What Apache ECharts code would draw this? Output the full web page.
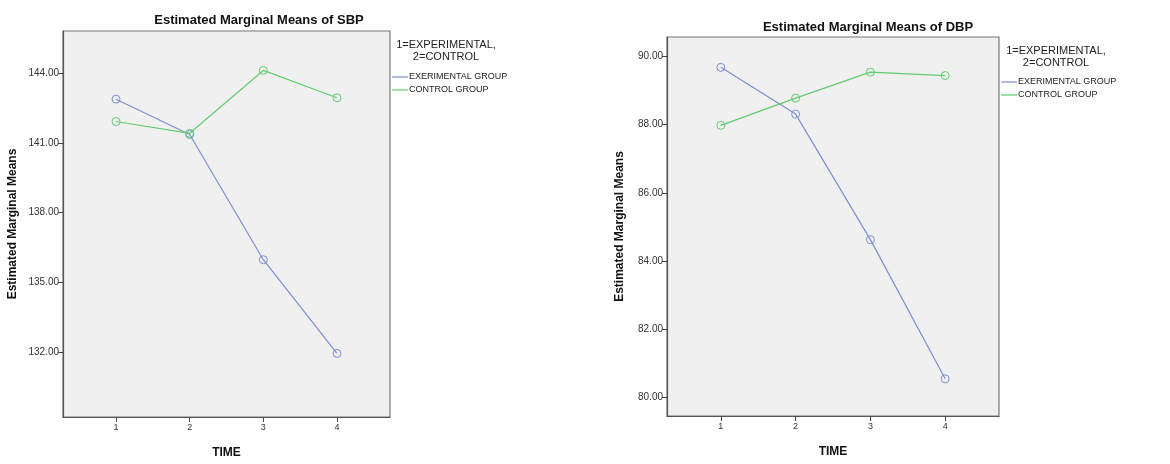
<!DOCTYPE html>
<html>
<head>
<meta charset="utf-8">
<script src="https://cdn.jsdelivr.net/npm/echarts@6/dist/echarts.min.js"></script>
<style>html,body{margin:0;padding:0;background:#fff;}#c{width:1170px;height:464px;}</style>
</head>
<body>
<div id="c"></div>
<script>
// ---- data ----
var timePoints = [1, 2, 3, 4];
var seriesNames = ['EXERIMENTAL GROUP', 'CONTROL GROUP'];
var sbpExperimental = [142.89, 141.37, 135.97, 131.93];
var sbpControl = [141.93, 141.42, 144.13, 142.95];
var dbpExperimental = [89.68, 88.31, 84.63, 80.55];
var dbpControl = [87.98, 88.78, 89.54, 89.44];
var sbpTicks = [132, 135, 138, 141, 144];
var dbpTicks = [80, 82, 84, 86, 88, 90];
var chartTitles = ['Estimated Marginal Means of SBP', 'Estimated Marginal Means of DBP'];
var legendTitle = '1=EXPERIMENTAL,\n2=CONTROL';
var yAxisTitle = 'Estimated Marginal Means';
var xAxisTitle = 'TIME';

var COLORS = ['#7d8fd2', '#62cc70'];
function pairs(vals){ return timePoints.map(function(t,i){ return [t, vals[i]]; }); }

function xAx(gi){
  return {
    type:'value', gridIndex:gi, min:0.28, max:4.72,
    name:xAxisTitle, nameLocation:'middle', nameGap:30,
    nameTextStyle:{fontFamily:'Arial, Liberation Sans', fontWeight:'bold', fontSize:12, color:'#111'},
    axisLine:{show:true, lineStyle:{color:'#555', width:1.2}},
    axisTick:{show:true, length:5, customValues:timePoints, lineStyle:{color:'#444'}},
    axisLabel:{customValues:timePoints, fontSize:9, color:'#333', fontFamily:'Arial, Liberation Sans', margin:6},
    splitLine:{show:false}
  };
}
function yAx(gi, mn, mx, ticks, gap){
  return {
    type:'value', gridIndex:gi, min:mn, max:mx,
    name:yAxisTitle, nameLocation:'middle', nameRotate:90, nameGap:gap,
    nameTextStyle:{fontFamily:'Arial, Liberation Sans', fontWeight:'bold', fontSize:12, color:'#111'},
    axisLine:{show:true, lineStyle:{color:'#555', width:1.2}},
    axisTick:{show:true, length:5, customValues:ticks, lineStyle:{color:'#444'}},
    axisLabel:{customValues:ticks, fontSize:10, color:'#333', fontFamily:'Arial, Liberation Sans', margin:4,
      formatter:function(v){ return v.toFixed(2); }},
    splitLine:{show:false}
  };
}
function ser(idx, vals, xi){
  var color = COLORS[idx];
  return {
    type:'line', name:seriesNames[idx], data:pairs(vals), xAxisIndex:xi, yAxisIndex:xi,
    symbol:'circle', symbolSize:8, showSymbol:true, color:color,
    lineStyle:{color:color, width:1.2}, itemStyle:{color:'rgba(0,0,0,0)', borderColor:color, borderWidth:1},
    emphasis:{disabled:true}, animation:false
  };
}
function legendCfg(l, t){
  return {
    orient:'vertical', left:l, top:t, padding:0,
    data:seriesNames.map(function(n,i){ return {name:n, itemStyle:{color:COLORS[i], borderWidth:0}}; }),
    icon:'rect', itemWidth:16, itemHeight:1.2,
    itemGap:1, selectedMode:false,
    textStyle:{fontFamily:'Liberation Sans Narrow, Arial Narrow, Arial', fontSize:9, color:'#222', lineHeight:12, padding:[0,0,0,-4]}
  };
}

var chart = echarts.init(document.getElementById('c'));
chart.setOption({
  backgroundColor:'#fff',
  animation:false,
  title:[
    {text:chartTitles[0], left:259, top:14, padding:0, textAlign:'center', textStyle:{fontFamily:'Arial, Liberation Sans', fontWeight:'bold', fontSize:13, color:'#111'}},
    {text:chartTitles[1], left:868, top:21, padding:0, textAlign:'center', textStyle:{fontFamily:'Arial, Liberation Sans', fontWeight:'bold', fontSize:13, color:'#111'}},
    {text:legendTitle, left:446, top:39, padding:0, textAlign:'center', textStyle:{fontFamily:'Arial, Liberation Sans', fontWeight:'normal', fontSize:11, lineHeight:12, color:'#222', align:'center'}},
    {text:legendTitle, left:1056, top:45, padding:0, textAlign:'center', textStyle:{fontFamily:'Arial, Liberation Sans', fontWeight:'normal', fontSize:11, lineHeight:12, color:'#222', align:'center'}}
  ],
  legend:[legendCfg(392, 71), legendCfg(1001, 76)],
  grid:[
    {left:63, top:31, width:327, height:391, show:true, backgroundColor:'#f0f0f0', borderColor:'#777', borderWidth:1.2},
    {left:667, top:37, width:332, height:379, show:true, backgroundColor:'#f0f0f0', borderColor:'#777', borderWidth:1.2}
  ],
  xAxis:[xAx(0), xAx(1)],
  yAxis:[yAx(0, 129.19, 145.83, sbpTicks, 44), yAx(1, 79.46, 90.57, dbpTicks, 41)],
  series:[
    ser(0, sbpExperimental, 0),
    ser(1, sbpControl, 0),
    ser(0, dbpExperimental, 1),
    ser(1, dbpControl, 1)
  ]
});
</script>
</body>
</html>
